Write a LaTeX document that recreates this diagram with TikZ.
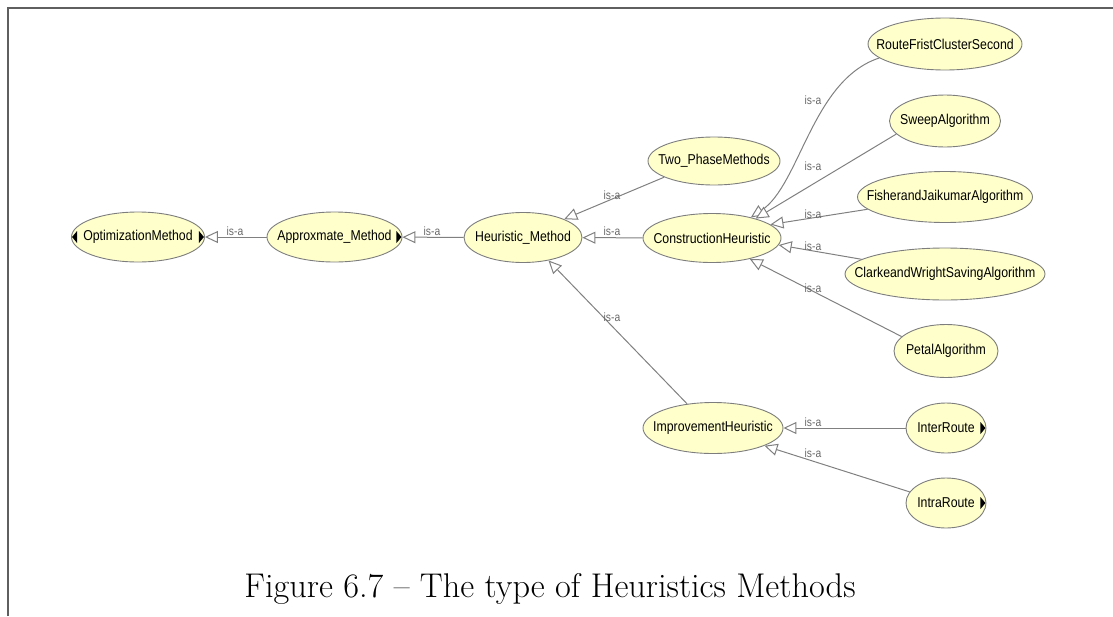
\documentclass[tikz,border=0pt]{standalone}
\usepackage{fontspec}
\newfontfamily\owlfont[FakeStretch=0.86]{Liberation Sans}
\usetikzlibrary{shapes.geometric,arrows.meta,calc}
\definecolor{owlfill}{RGB}{255,255,204}
\definecolor{owledge}{RGB}{128,128,128}
\definecolor{owlborder}{RGB}{125,125,125}
\definecolor{labgray}{RGB}{105,105,105}
\definecolor{framegray}{RGB}{95,95,95}
\newcommand{\cl}[1]{\makebox[0pt]{#1}}
\begin{document}
\begin{tikzpicture}[x=1pt,y=-1pt,
  cls/.style={ellipse, draw=owlborder, fill=owlfill, line width=0.9pt, inner sep=0pt,
    minimum height=50pt, font=\owlfont\fontsize{14.3}{16}\selectfont},
  isa/.style={draw=owledge, line width=1pt, -{Triangle[fill=white, length=13pt, width=12pt]}},
  isalab/.style={font=\owlfont\fontsize{12}{14}\selectfont, text=labgray, inner sep=0pt},
  caption/.style={font=\fontsize{34.3}{40}\selectfont, inner sep=0pt, anchor=base}
]
\useasboundingbox (0,0) rectangle (1113,616);
\draw[framegray, line width=1.5pt] (8,616) -- (8,8) -- (1113,8);

\node[cls, minimum width=133pt] (opt) at (138,237) {\cl{OptimizationMethod}};
\node[cls, minimum width=135pt] (app) at (334.5,237) {\cl{Approxmate\_Method}};
\node[cls, minimum width=118pt] (heu) at (523,237.5) {\cl{Heuristic\_Method}};
\node[cls, minimum width=132pt, minimum height=48pt] (two) at (714,161) {\cl{Two\_PhaseMethods}};
\node[cls, minimum width=138pt, minimum height=49pt] (con) at (712,238) {\cl{ConstructionHeuristic}};
\node[cls, minimum width=154pt, minimum height=52pt] (route) at (945,44) {\cl{RouteFristClusterSecond}};
\node[cls, minimum width=111pt, minimum height=52pt] (sweep) at (945,121) {\cl{SweepAlgorithm}};
\node[cls, minimum width=175pt, minimum height=51pt] (fisher) at (945,197) {\cl{FisherandJaikumarAlgorithm}};
\node[cls, minimum width=200pt, minimum height=52pt] (clarke) at (945,274) {\cl{ClarkeandWrightSavingAlgorithm}};
\node[cls, minimum width=104pt, minimum height=53pt] (petal) at (946,351) {\cl{PetalAlgorithm}};
\node[cls, minimum width=140pt, minimum height=51pt] (imp) at (713,428) {\cl{ImprovementHeuristic}};
\node[cls, minimum width=80pt] (inter) at (946,428) {\cl{InterRoute}};
\node[cls, minimum width=80pt] (intra) at (946,503) {\cl{IntraRoute}};

% black markers
\fill ($(opt.west)+(6,-6)$) -- ($(opt.west)+(1,0)$) -- ($(opt.west)+(6,6)$) -- cycle;
\foreach \n in {opt,app,inter,intra}{
  \fill ($(\n.east)+(-6,-6)$) -- ($(\n.east)+(-1,0)$) -- ($(\n.east)+(-6,6)$) -- cycle;
}

% is-a edges
\draw[isa] (app) -- (opt);
\draw[isa] (heu) -- (app);
\draw[isa] (con) -- (heu);
\draw[isa] (two.198) -- (heu.24);
\draw[isa] (imp.137) -- (heu.-42);
\draw[isa] (route.192) .. controls (812,80) and (800,185) .. (con.28);
\draw[isa] (sweep.195) -- (con.24);
\draw[isa] (fisher.189) -- (con.13);
\draw[isa] (clarke.170) -- (con.-6);
\draw[isa] (petal.162) -- (con.-29);
\draw[isa] (inter) -- (imp);
\draw[isa] (intra.163) -- (imp.-19);

% labels
\node[isalab] (l1) at (235,231) {is-a};
\node[isalab] (l2) at (432,231) {is-a};
\node[isalab] (l3) at (612,231) {is-a};
\node[isalab] (l4) at (612,195) {is-a};
\node[isalab] (l5) at (612,317) {is-a};
\node[isalab] (l6) at (813,100) {is-a};
\node[isalab] (l7) at (813,166) {is-a};
\node[isalab] (l8) at (813,214) {is-a};
\node[isalab] (l9) at (813,246) {is-a};
\node[isalab] (l10) at (813,288) {is-a};
\node[isalab] (l11) at (813,422) {is-a};
\node[isalab] (l12) at (813,453) {is-a};

\node[caption] (cap) at (550,597) {Figure 6.7 -- The type of Heuristics Methods};
\end{tikzpicture}
\end{document}
